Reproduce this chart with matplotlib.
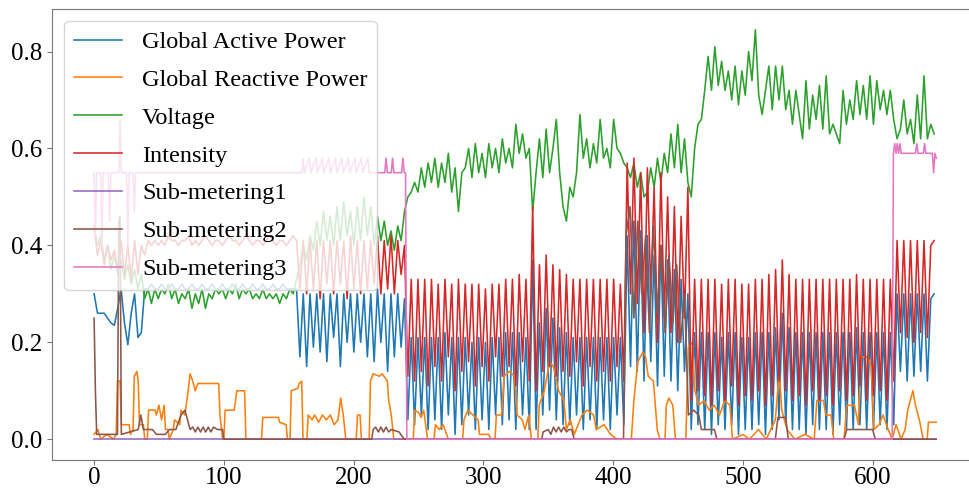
import numpy as np
import matplotlib
matplotlib.use('Agg')
import matplotlib.pyplot as plt

plt.rcParams['font.family'] = ['Liberation Serif', 'DejaVu Serif']

# time axis of the sampled series (one sample every 2.6 steps)
step = 2.6

active = [
    0.30, 0.26, 0.26, 0.26, 0.25, 0.24, 0.235, 0.27, 0.31, 0.24,
    0.195, 0.26, 0.30, 0.21, 0.22, 0.31, 0.31, 0.32, 0.31, 0.31,
    0.32, 0.31, 0.31, 0.32, 0.31, 0.31, 0.32, 0.31, 0.31, 0.32,
    0.31, 0.31, 0.32, 0.31, 0.31, 0.32, 0.31, 0.31, 0.32, 0.31,
    0.31, 0.32, 0.31, 0.31, 0.32, 0.31, 0.31, 0.32, 0.31, 0.31,
    0.32, 0.31, 0.31, 0.32, 0.31, 0.31, 0.32, 0.31, 0.31, 0.31,
    0.31, 0.17, 0.30, 0.15, 0.30, 0.19, 0.30, 0.18, 0.30, 0.16,
    0.30, 0.21, 0.30, 0.15, 0.30, 0.20, 0.30, 0.18, 0.30, 0.20,
    0.30, 0.17, 0.30, 0.16, 0.31, 0.20, 0.30, 0.14, 0.30, 0.17,
    0.30, 0.19, 0.29, 0.04, 0.21, 0.03, 0.21, 0.05, 0.21, 0.02,
    0.21, 0.04, 0.21, 0.02, 0.22, 0.05, 0.21, 0.01, 0.21, 0.03,
    0.21, 0.05, 0.20, 0.02, 0.21, 0.04, 0.20, 0.02, 0.21, 0.05,
    0.21, 0.03, 0.22, 0.04, 0.22, 0.02, 0.22, 0.05, 0.21, 0.02,
    0.37, 0.02, 0.24, 0.05, 0.27, 0.06, 0.25, 0.04, 0.23, 0.03,
    0.22, 0.03, 0.21, 0.05, 0.21, 0.02, 0.21, 0.04, 0.21, 0.02,
    0.21, 0.04, 0.21, 0.02, 0.21, 0.05, 0.21, 0.03, 0.42, 0.15,
    0.45, 0.14, 0.43, 0.12, 0.42, 0.16, 0.38, 0.11, 0.40, 0.13,
    0.37, 0.12, 0.35, 0.10, 0.33, 0.14, 0.30, 0.02, 0.22, 0.03,
    0.22, 0.02, 0.22, 0.01, 0.22, 0.03, 0.21, 0.02, 0.22, 0.03,
    0.22, 0.01, 0.21, 0.02, 0.21, 0.02, 0.22, 0.03, 0.22, 0.01,
    0.22, 0.02, 0.23, 0.04, 0.26, 0.03, 0.23, 0.02, 0.22, 0.02,
    0.22, 0.01, 0.22, 0.03, 0.22, 0.02, 0.22, 0.02, 0.22, 0.01,
    0.22, 0.03, 0.22, 0.02, 0.22, 0.02, 0.23, 0.03, 0.22, 0.02,
    0.22, 0.02, 0.22, 0.03, 0.22, 0.02, 0.22, 0.03, 0.30, 0.14,
    0.30, 0.12, 0.30, 0.13, 0.30, 0.14, 0.30, 0.12, 0.29, 0.30,
]

voltage = [
    0.44, 0.40, 0.42, 0.37, 0.40, 0.35, 0.38, 0.34, 0.37, 0.33,
    0.36, 0.32, 0.35, 0.31, 0.34, 0.29, 0.31, 0.28, 0.31, 0.29,
    0.31, 0.30, 0.32, 0.29, 0.31, 0.28, 0.30, 0.29, 0.31, 0.27,
    0.30, 0.28, 0.31, 0.27, 0.30, 0.29, 0.31, 0.30, 0.31, 0.29,
    0.31, 0.30, 0.32, 0.29, 0.31, 0.30, 0.31, 0.29, 0.30, 0.29,
    0.31, 0.29, 0.30, 0.29, 0.30, 0.28, 0.30, 0.29, 0.31, 0.30,
    0.33, 0.36, 0.40, 0.37, 0.42, 0.39, 0.45, 0.40, 0.47, 0.41,
    0.46, 0.40, 0.48, 0.41, 0.49, 0.42, 0.47, 0.40, 0.48, 0.41,
    0.50, 0.42, 0.48, 0.40, 0.46, 0.41, 0.45, 0.40, 0.43, 0.39,
    0.44, 0.41, 0.47, 0.50, 0.51, 0.53, 0.51, 0.56, 0.52, 0.57,
    0.53, 0.58, 0.52, 0.57, 0.53, 0.59, 0.51, 0.56, 0.47, 0.55,
    0.56, 0.60, 0.54, 0.61, 0.55, 0.59, 0.54, 0.61, 0.56, 0.60,
    0.55, 0.62, 0.57, 0.60, 0.56, 0.65, 0.59, 0.63, 0.58, 0.60,
    0.47, 0.55, 0.62, 0.54, 0.64, 0.55, 0.60, 0.66, 0.55, 0.48,
    0.45, 0.52, 0.50, 0.55, 0.67, 0.58, 0.62, 0.56, 0.61, 0.57,
    0.66, 0.58, 0.60, 0.56, 0.66, 0.60, 0.59, 0.57, 0.56, 0.54,
    0.57, 0.52, 0.55, 0.50, 0.51, 0.56, 0.52, 0.58, 0.53, 0.59,
    0.55, 0.63, 0.56, 0.65, 0.55, 0.62, 0.53, 0.50, 0.60, 0.65,
    0.66, 0.72, 0.79, 0.72, 0.81, 0.73, 0.78, 0.72, 0.76, 0.70,
    0.77, 0.69, 0.76, 0.71, 0.80, 0.74, 0.845, 0.71, 0.67, 0.72,
    0.77, 0.68, 0.77, 0.70, 0.77, 0.68, 0.72, 0.65, 0.72, 0.67,
    0.62, 0.74, 0.64, 0.71, 0.66, 0.73, 0.64, 0.75, 0.63, 0.65,
    0.63, 0.61, 0.72, 0.65, 0.70, 0.66, 0.74, 0.67, 0.73, 0.66,
    0.75, 0.65, 0.74, 0.68, 0.72, 0.67, 0.72, 0.66, 0.62, 0.64,
    0.70, 0.63, 0.66, 0.61, 0.71, 0.62, 0.75, 0.62, 0.65, 0.63,
]

intensity = [
    0.44, 0.38, 0.41, 0.36, 0.40, 0.37, 0.39, 0.35, 0.41, 0.34,
    0.40, 0.33, 0.41, 0.34, 0.40, 0.38, 0.41, 0.40, 0.41, 0.40,
    0.41, 0.40, 0.42, 0.41, 0.41, 0.40, 0.41, 0.41, 0.42, 0.40,
    0.41, 0.40, 0.41, 0.42, 0.41, 0.40, 0.41, 0.41, 0.40, 0.41,
    0.42, 0.41, 0.41, 0.40, 0.41, 0.42, 0.41, 0.40, 0.41, 0.41,
    0.40, 0.41, 0.42, 0.41, 0.40, 0.41, 0.41, 0.40, 0.41, 0.42,
    0.41, 0.31, 0.41, 0.30, 0.41, 0.31, 0.41, 0.29, 0.41, 0.32,
    0.41, 0.30, 0.41, 0.32, 0.41, 0.29, 0.42, 0.31, 0.41, 0.30,
    0.41, 0.31, 0.41, 0.32, 0.42, 0.30, 0.41, 0.31, 0.42, 0.30,
    0.41, 0.34, 0.40, 0.13, 0.33, 0.12, 0.33, 0.14, 0.33, 0.11,
    0.33, 0.15, 0.32, 0.12, 0.33, 0.17, 0.32, 0.10, 0.33, 0.14,
    0.32, 0.16, 0.32, 0.11, 0.32, 0.15, 0.31, 0.12, 0.32, 0.17,
    0.32, 0.13, 0.33, 0.15, 0.33, 0.11, 0.34, 0.16, 0.33, 0.12,
    0.48, 0.10, 0.36, 0.14, 0.38, 0.15, 0.36, 0.13, 0.35, 0.14,
    0.34, 0.13, 0.33, 0.16, 0.33, 0.11, 0.33, 0.15, 0.33, 0.12,
    0.33, 0.14, 0.33, 0.12, 0.33, 0.15, 0.32, 0.12, 0.57, 0.30,
    0.58, 0.28, 0.55, 0.22, 0.56, 0.30, 0.52, 0.20, 0.55, 0.25,
    0.50, 0.22, 0.48, 0.20, 0.46, 0.25, 0.52, 0.08, 0.33, 0.10,
    0.33, 0.09, 0.33, 0.07, 0.33, 0.10, 0.32, 0.08, 0.33, 0.11,
    0.33, 0.07, 0.32, 0.09, 0.32, 0.08, 0.33, 0.10, 0.33, 0.07,
    0.34, 0.09, 0.35, 0.12, 0.37, 0.10, 0.34, 0.08, 0.33, 0.09,
    0.33, 0.07, 0.33, 0.10, 0.33, 0.08, 0.33, 0.09, 0.33, 0.07,
    0.33, 0.10, 0.33, 0.08, 0.33, 0.09, 0.34, 0.11, 0.33, 0.08,
    0.33, 0.09, 0.33, 0.10, 0.33, 0.08, 0.33, 0.12, 0.41, 0.22,
    0.41, 0.21, 0.41, 0.20, 0.41, 0.22, 0.41, 0.21, 0.40, 0.41,
]

# blocky series kept as (x, y) vertices
reactive_x = [0, 3, 5, 10, 15, 17, 18, 20, 21, 27, 28, 30, 31, 33, 34, 35, 38, 39,
              41, 42, 47, 48, 50, 52, 54, 55, 57, 58, 61, 62, 66, 67, 70, 72, 74, 76,
              78, 80, 96, 97, 99, 100, 101, 108, 110, 116, 117, 129, 130, 142, 143,
              148, 149, 151, 152, 157, 158, 160, 161, 164, 165, 168, 170, 173, 176,
              179, 182, 185, 188, 190, 192, 194, 202, 203, 205, 206, 212, 213, 215,
              220, 222, 226, 227, 229, 231, 246, 247, 250, 252, 254, 257, 262, 263,
              266, 269, 273, 284, 285, 288, 292, 296, 297, 304, 306, 309, 310, 314,
              316, 320, 324, 326, 330, 332, 335, 337, 342, 343, 347, 351, 354, 358,
              362, 364, 367, 370, 373, 376, 380, 385, 387, 393, 398, 403, 414, 416,
              419, 421, 423, 425, 427, 431, 434, 436, 440, 441, 443, 446, 448, 456,
              458, 461, 463, 466, 470, 474, 478, 482, 486, 490, 492, 500, 505, 512,
              518, 525, 528, 530, 534, 540, 548, 555, 557, 562, 564, 568, 570, 578,
              580, 586, 589, 591, 596, 599, 601, 605, 608, 612, 615, 618, 622, 625,
              627, 629, 631, 633, 636, 639, 642, 643, 649]
reactive_y = [0.01, 0.02, 0.0, 0.01, 0.0, 0.01, 0.12, 0.12, 0.03, 0.03, 0.01, 0.02,
              0.13, 0.14, 0.12, 0.03, 0.03, 0.0, 0.0, 0.06, 0.06, 0.05, 0.07, 0.04,
              0.07, 0.02, 0.02, 0.0, 0.02, 0.04, 0.03, 0.06, 0.05, 0.09, 0.135, 0.12,
              0.10, 0.115, 0.115, 0.05, 0.0, 0.0, 0.06, 0.06, 0.10, 0.10, 0.0, 0.0,
              0.045, 0.045, 0.035, 0.03, 0.0, 0.0, 0.10, 0.105, 0.115, 0.12, 0.0, 0.0,
              0.05, 0.04, 0.05, 0.035, 0.05, 0.04, 0.05, 0.03, 0.04, 0.085, 0.05, 0.0,
              0.0, 0.05, 0.05, 0.0, 0.0, 0.12, 0.135, 0.13, 0.135, 0.12, 0.08, 0.05,
              0.0, 0.0, 0.06, 0.055, 0.045, 0.06, 0.0, 0.0, 0.03, 0.02, 0.03, 0.0,
              0.0, 0.04, 0.06, 0.05, 0.04, 0.01, 0.01, 0.0, 0.0, 0.05, 0.05, 0.13,
              0.14, 0.13, 0.05, 0.04, 0.02, 0.05, 0.0, 0.0, 0.07, 0.10, 0.16, 0.15,
              0.10, 0.08, 0.02, 0.04, 0.01, 0.03, 0.05, 0.06, 0.05, 0.02, 0.03, 0.01,
              0.0, 0.0, 0.08, 0.16, 0.17, 0.18, 0.17, 0.13, 0.12, 0.02, 0.0, 0.0,
              0.07, 0.085, 0.07, 0.0, 0.0, 0.19, 0.20, 0.10, 0.07, 0.08, 0.06, 0.07,
              0.05, 0.08, 0.07, 0.0, 0.01, 0.0, 0.02, 0.0, 0.04, 0.14, 0.06, 0.02,
              0.0, 0.01, 0.0, 0.08, 0.08, 0.05, 0.05, 0.0, 0.0, 0.07, 0.07, 0.03,
              0.17, 0.17, 0.15, 0.02, 0.03, 0.05, 0.02, 0.0, 0.03, 0.0, 0.02, 0.06,
              0.08, 0.10, 0.07, 0.04, 0.0, 0.0, 0.035, 0.035]

sub1_x = [0, 649]
sub1_y = [0.0, 0.0]

sub2_x = [0, 1, 2, 18, 19, 20, 21, 34, 36, 38, 45, 48, 55, 58, 63, 67, 70, 72, 74,
          76, 78, 80, 82, 84, 86, 88, 90, 92, 95, 99, 100, 214, 215, 217, 219, 221,
          223, 225, 227, 229, 235, 239, 345, 346, 350, 352, 354, 356, 358, 360, 362,
          364, 366, 368, 370, 408, 410, 413, 416, 419, 422, 425, 428, 431, 434, 437,
          440, 443, 446, 449, 452, 455, 458, 462, 466, 468, 478, 480, 525, 527, 533,
          535, 578, 580, 600, 602, 649]
sub2_y = [0.25, 0.10, 0.01, 0.01, 0.45, 0.46, 0.01, 0.02, 0.05, 0.02, 0.02, 0.01,
          0.01, 0.02, 0.02, 0.05, 0.06, 0.04, 0.02, 0.025, 0.015, 0.025, 0.015,
          0.025, 0.015, 0.025, 0.015, 0.025, 0.02, 0.02, 0.0, 0.0, 0.02, 0.025,
          0.015, 0.025, 0.015, 0.025, 0.015, 0.02, 0.015, 0.0, 0.0, 0.015, 0.02,
          0.01, 0.025, 0.015, 0.025, 0.015, 0.025, 0.015, 0.02, 0.02, 0.0, 0.0,
          0.42, 0.48, 0.25, 0.45, 0.30, 0.42, 0.22, 0.44, 0.26, 0.40, 0.22, 0.38,
          0.24, 0.36, 0.20, 0.30, 0.05, 0.06, 0.05, 0.02, 0.02, 0.0, 0.0, 0.045,
          0.045, 0.0, 0.0, 0.02, 0.02, 0.0, 0.0]

sub3_x = [0, 1, 2, 5, 6, 7, 11, 12, 13, 19, 20, 21, 25, 26, 27, 30, 31, 32, 160, 161,
          162, 166, 167, 171, 172, 176, 177, 181, 182, 186, 187, 191, 192, 196, 197,
          201, 202, 206, 207, 211, 212, 224, 225, 226, 229, 230, 231, 237, 238, 239,
          240, 241, 615, 616, 617, 618, 619, 620, 621, 622, 633, 634, 635, 639, 640,
          641, 646, 647, 648, 649]
sub3_y = [0.55, 0.42, 0.55, 0.55, 0.40, 0.55, 0.55, 0.45, 0.55, 0.55, 0.66, 0.55,
          0.55, 0.40, 0.55, 0.55, 0.47, 0.55, 0.55, 0.58, 0.55, 0.58, 0.55, 0.58,
          0.55, 0.58, 0.55, 0.58, 0.55, 0.58, 0.55, 0.58, 0.55, 0.58, 0.55, 0.58,
          0.55, 0.58, 0.55, 0.58, 0.55, 0.55, 0.58, 0.55, 0.55, 0.58, 0.55, 0.55,
          0.58, 0.55, 0.55, 0.0, 0.0, 0.59, 0.61, 0.59, 0.61, 0.59, 0.61, 0.59,
          0.59, 0.61, 0.59, 0.59, 0.61, 0.59, 0.59, 0.55, 0.59, 0.58]

t = np.arange(len(active)) * step

fig = plt.figure(figsize=(9.7, 4.88), dpi=100)
ax = fig.add_axes([0.0536, 0.058, 0.955, 0.923])

lw = 1.15
ax.plot(t, active, color='C0', lw=lw, label='Global Active Power')
ax.plot(reactive_x, reactive_y, color='C1', lw=lw, label='Global Reactive Power')
ax.plot(t, voltage, color='C2', lw=lw, label='Voltage')
ax.plot(t, intensity, color='C3', lw=lw, label='Intensity')
ax.plot(sub1_x, sub1_y, color='C4', lw=lw, label='Sub-metering1')
ax.plot(sub2_x, sub2_y, color='C5', lw=lw, label='Sub-metering2')
ax.plot(sub3_x, sub3_y, color='C6', lw=lw, label='Sub-metering3')

ax.set_xticks([0, 100, 200, 300, 400, 500, 600])
ax.set_yticks([0.0, 0.2, 0.4, 0.6, 0.8])
ax.tick_params(labelsize=18, color='#777777')
ax.tick_params(axis='x', pad=1.5)
for s in ax.spines.values():
    s.set_color('#777777')

ax.legend(loc='upper left', fontsize=17.5, labelspacing=0.65)

fig.savefig('out.png', dpi=100)
